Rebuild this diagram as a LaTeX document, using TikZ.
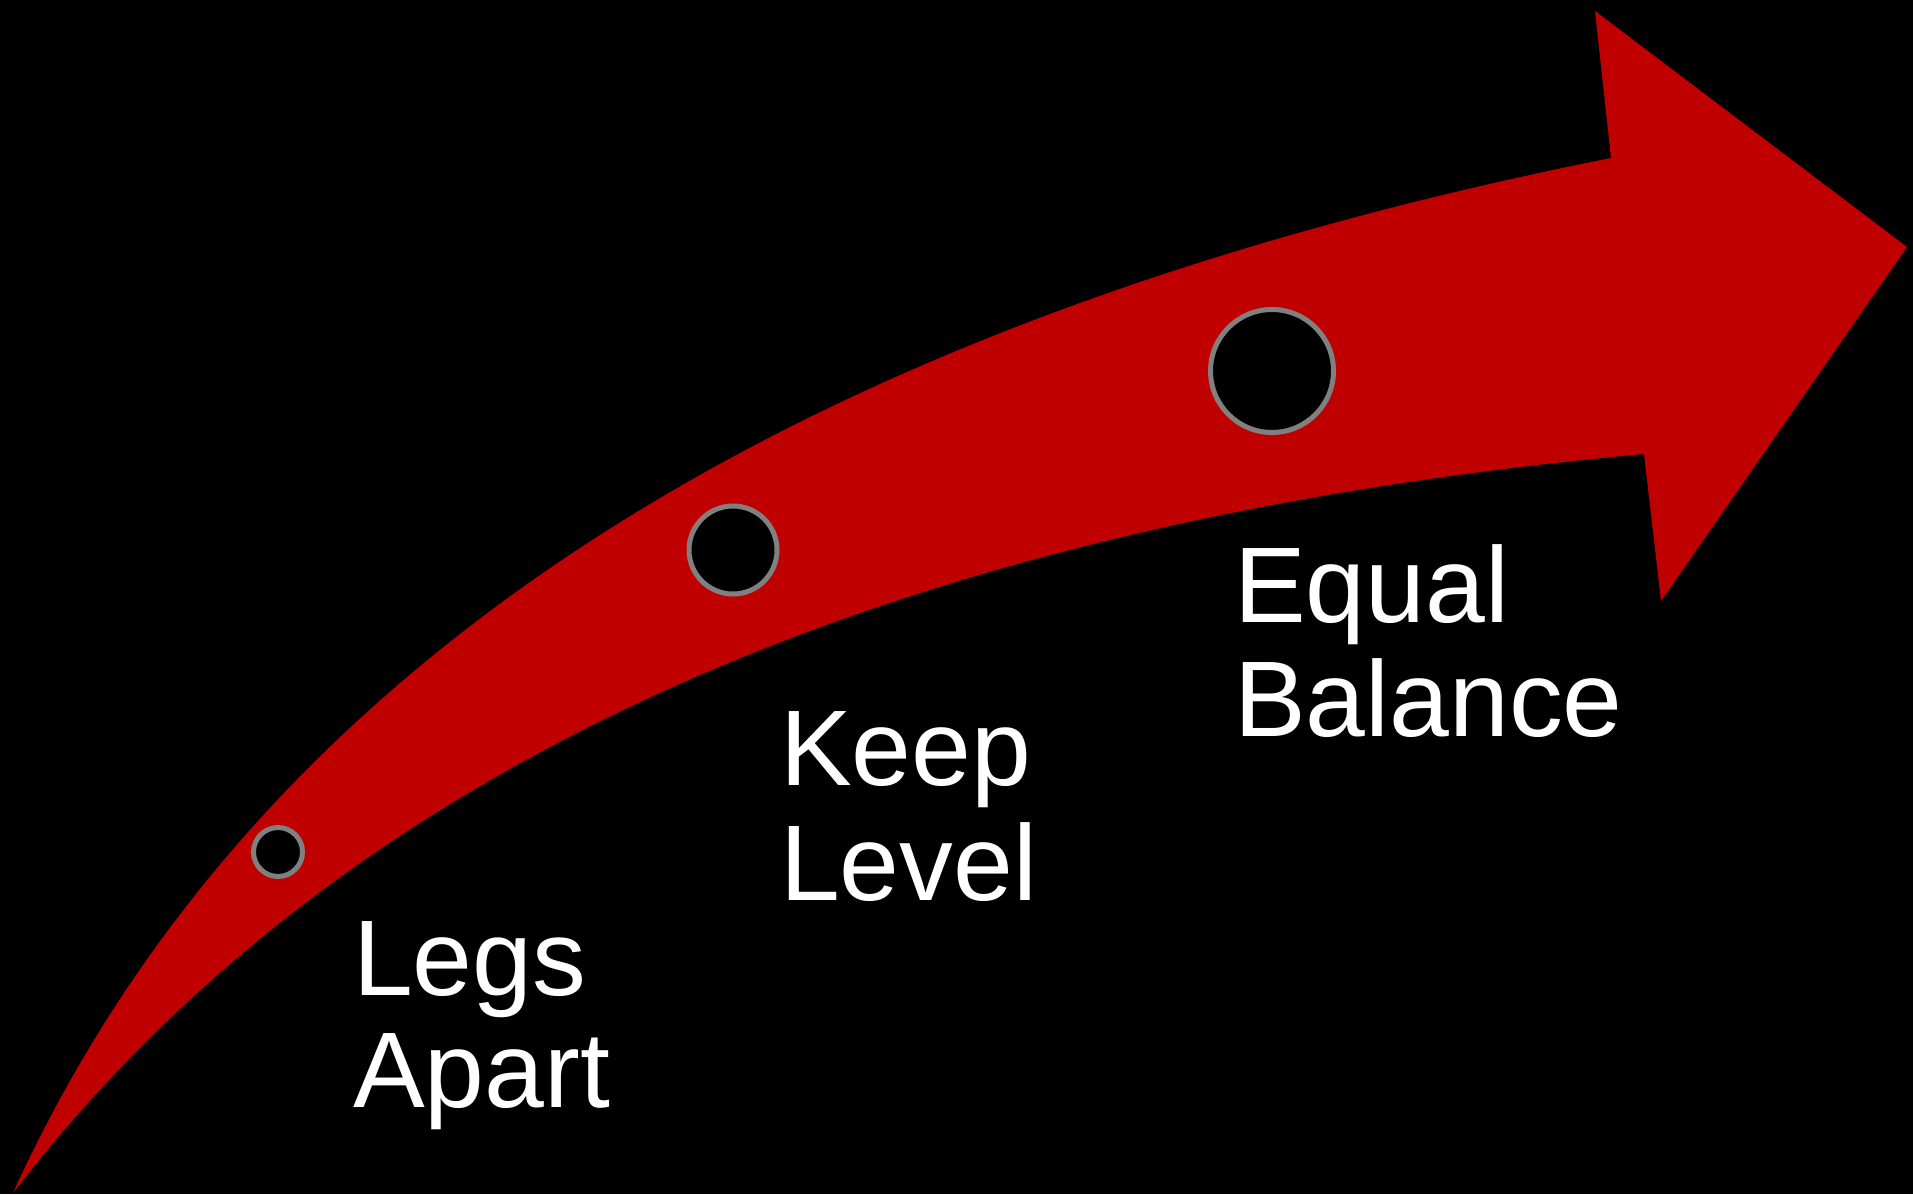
\documentclass[tikz,border=0pt]{standalone}
\usepackage{fontspec}
\setmainfont{Liberation Sans}
\definecolor{arrowred}{RGB}{192,0,0}
\definecolor{ringgray}{RGB}{128,128,128}
\begin{document}
\begin{tikzpicture}[x=1pt,y=-1pt,
  ring/.style={draw=ringgray,line width=5pt,fill=black},
  label/.style={text=white,anchor=base west,inner sep=0pt,font=\fontsize{107.5}{107.5}\selectfont}]
\fill[black] (0,0) rectangle (1913,1194);
\useasboundingbox (0,0) rectangle (1913,1194);
% curved arrow
\fill[arrowred] (13,1193) .. controls (252,668) and (784,323) .. (1611,158)
  -- (1595,11) -- (1907,247) -- (1661,601) -- (1644,454)
  .. controls (883,523) and (339,769) .. (13,1193) -- cycle;
% milestones
\draw[ring] (278,852) circle (24.5);
\draw[ring] (733,550) circle (44);
\draw[ring] (1272,371) circle (61.5);
% labels
\node[label] (legs) at (353,995) {Legs};
\node[label] (apart) at (353,1107) {Apart};
\node[label] (keep) at (780,785) {Keep};
\node[label] (level) at (780,900) {Level};
\node[label] (equal) at (1234,622) {Equal};
\node[label] (balance) at (1234,736) {Balance};
\end{tikzpicture}
\end{document}
